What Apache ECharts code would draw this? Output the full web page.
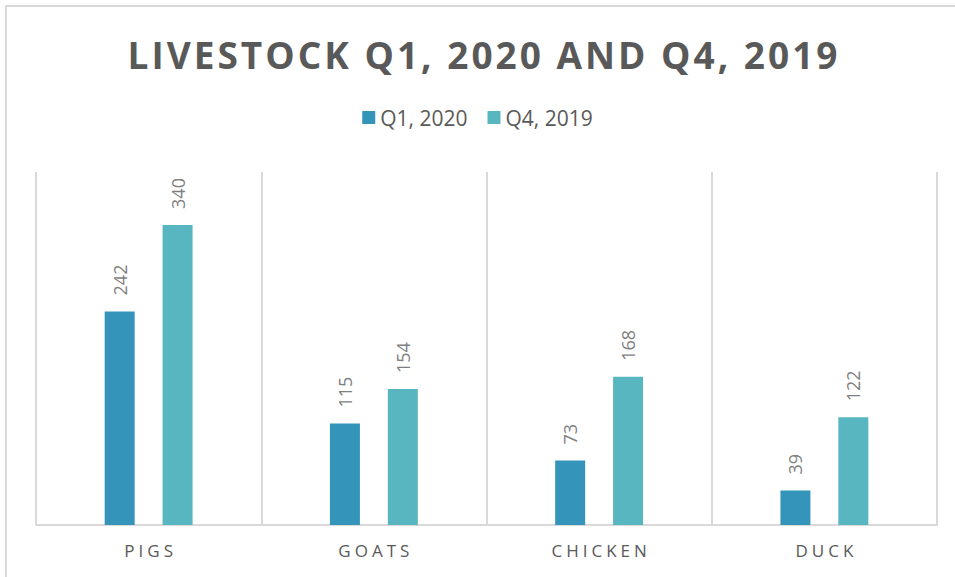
<!DOCTYPE html>
<html>
<head>
<meta charset="utf-8">
<script src="https://cdn.jsdelivr.net/npm/echarts@6/dist/echarts.min.js"></script>
<style>
  html, body { margin: 0; padding: 0; background: #fff; }
  #chart { width: 955px; height: 577px; }
</style>
</head>
<body>
<div id="chart"></div>
<script>
const categories = ['PIGS', 'GOATS', 'CHICKEN', 'DUCK'];
const seriesNames = ['Q1, 2020', 'Q4, 2019'];
const q1_2020 = [242, 115, 73, 39];
const q4_2019 = [340, 154, 168, 122];

const TITLE = 'LIVESTOCK Q1, 2020 AND Q4, 2019';
const FONT = '"Open Sans", sans-serif';

const chart = echarts.init(document.getElementById('chart'), null, { renderer: 'svg' });

// rotated value labels above each bar
const barLabel = {
  show: true,
  position: 'top',
  rotate: 90,
  align: 'left',
  verticalAlign: 'middle',
  distance: 16,
  color: '#7f7f7f',
  fontFamily: FONT,
  fontSize: 18,
};

chart.setOption({
  animation: false,
  backgroundColor: '#fff',
  title: {
    text: TITLE,
    left: 'center',
    top: 31,
    textStyle: {
      color: '#595959',
      fontFamily: FONT,
      fontWeight: 'bold',
      fontSize: 37,
    },
  },
  legend: {
    top: 102,
    left: 'center',
    itemWidth: 13,
    itemHeight: 13,
    itemGap: 20,
    icon: 'rect',
    textStyle: { color: '#595959', fontFamily: FONT, fontSize: 21 },
    data: seriesNames,
  },
  graphic: [
    {
      type: 'rect',
      shape: { x: 6, y: 6, width: 1000, height: 700 },
      style: { fill: 'none', stroke: '#d9d9d9', lineWidth: 2 },
      silent: true,
    },
  ],
  grid: { left: 36, right: 18, top: 172, bottom: 52 },
  xAxis: {
    type: 'category',
    data: categories,
    axisLine: { lineStyle: { color: '#d9d9d9', width: 2 } },
    axisTick: { show: false },
    splitLine: { show: true, lineStyle: { color: '#d9d9d9', width: 2 } },
    axisLabel: {
      color: '#595959',
      fontFamily: FONT,
      fontSize: 17,
      margin: 17,
    },
  },
  yAxis: {
    type: 'value',
    min: 0,
    max: 400,
    show: false,
    splitLine: { show: false },
  },
  series: [
    {
      name: seriesNames[0],
      type: 'bar',
      data: q1_2020,
      barWidth: 30,
      barGap: '93%',
      itemStyle: { color: '#3494BA' },
      label: barLabel,
    },
    {
      name: seriesNames[1],
      type: 'bar',
      data: q4_2019,
      barWidth: 30,
      itemStyle: { color: '#58B6C0' },
      label: barLabel,
    },
  ],
});

// letter spacing for the title and category names (svg text, centred anchors)
let spaced = false;
function spaceLetters() {
  if (spaced) return;
  spaced = true;
  document.querySelectorAll('#chart svg text').forEach((t) => {
    const s = t.textContent;
    let sp = 0, shift = 0;
    if (s === TITLE) { sp = 3; shift = 5; }
    else if (categories.includes(s)) sp = 4;
    if (!sp) return;
    t.style.letterSpacing = sp + 'px';
    // letter-spacing also trails the last glyph, so nudge back to centre
    const x = parseFloat(t.getAttribute('x') || '0');
    t.setAttribute('x', x + sp / 2 + shift);
  });
}
chart.on('finished', spaceLetters);
setTimeout(spaceLetters, 50);
</script>
</body>
</html>
